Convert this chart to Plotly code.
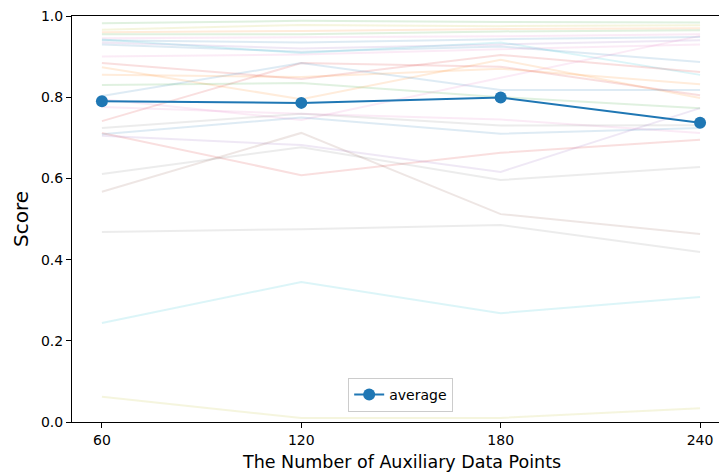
import plotly.graph_objects as go

# Number of auxiliary data points on the x axis
aux_points = [60, 120, 180, 240]

# Per-task scores (one faint line each) with their tab10 colour names
task_scores = {
    "t01": ([0.982, 0.988, 0.985, 0.984], "green"),
    "t02": ([0.966, 0.978, 0.975, 0.977], "olive"),
    "t03": ([0.960, 0.963, 0.968, 0.970], "orange"),
    "t04": ([0.955, 0.955, 0.962, 0.965], "green"),
    "t05": ([0.945, 0.948, 0.950, 0.955], "pink"),
    "t06": ([0.940, 0.935, 0.943, 0.948], "blue"),
    "t07": ([0.935, 0.920, 0.930, 0.940], "purple"),
    "t08": ([0.930, 0.912, 0.925, 0.887], "blue"),
    "t09": ([0.942, 0.909, 0.935, 0.855], "cyan"),
    "t10": ([0.900, 0.905, 0.918, 0.930], "pink"),
    "t11": ([0.884, 0.845, 0.904, 0.862], "red"),
    "t12": ([0.874, 0.795, 0.892, 0.798], "orange"),
    "t13": ([0.741, 0.884, 0.875, 0.805], "red"),
    "t14": ([0.803, 0.884, 0.818, 0.818], "blue"),
    "t15": ([0.830, 0.835, 0.800, 0.773], "green"),
    "t16": ([0.795, 0.744, 0.848, 0.951], "pink"),
    "t17": ([0.855, 0.850, 0.870, 0.832], "orange"),
    "t18": ([0.776, 0.759, 0.745, 0.712], "pink"),
    "t19": ([0.724, 0.759, 0.730, 0.731], "gray"),
    "t20": ([0.709, 0.750, 0.710, 0.724], "blue"),
    "t21": ([0.712, 0.608, 0.663, 0.695], "red"),
    "t22": ([0.705, 0.682, 0.616, 0.773], "purple"),
    "t23": ([0.611, 0.677, 0.596, 0.628], "gray"),
    "t24": ([0.567, 0.712, 0.512, 0.463], "brown"),
    "t25": ([0.468, 0.475, 0.485, 0.419], "gray"),
    "t26": ([0.244, 0.345, 0.268, 0.308], "cyan"),
    "t27": ([0.062, 0.010, 0.010, 0.034], "olive"),
}

# Mean score across tasks
average_scores = [0.790, 0.786, 0.799, 0.737]

y_ticks = [0.0, 0.2, 0.4, 0.6, 0.8, 1.0]

tab10 = {
    "blue": (31, 119, 180), "orange": (255, 127, 14), "green": (44, 160, 44),
    "red": (214, 39, 40), "purple": (148, 103, 189), "brown": (140, 86, 75),
    "pink": (227, 119, 194), "gray": (127, 127, 127), "olive": (188, 189, 34),
    "cyan": (23, 190, 207),
}

fig = go.Figure()

for name, (scores, cname) in task_scores.items():
    r, g, b = tab10[cname]
    fig.add_trace(go.Scatter(
        x=aux_points, y=scores, mode="lines", name=name, showlegend=False,
        line=dict(color=f"rgba({r},{g},{b},0.15)", width=2),
        hoverinfo="skip",
    ))

fig.add_trace(go.Scatter(
    x=aux_points, y=average_scores, mode="lines+markers", name="average",
    line=dict(color="#1f77b4", width=2),
    marker=dict(color="#1f77b4", size=12),
))

fig.update_layout(
    width=719, height=476,
    margin=dict(l=72, r=0, t=16, b=54),
    paper_bgcolor="white", plot_bgcolor="white",
    font=dict(family="DejaVu Sans", size=14, color="black"),
    legend=dict(
        x=0.508, xanchor="center", y=0.025, yanchor="bottom",
        bordercolor="#cccccc", borderwidth=1, bgcolor="rgba(255,255,255,0.8)",
        font=dict(size=14), tracegroupgap=0,
    ),
    annotations=[dict(
        text="The Number of Auxiliary Data Points", xref="paper", yref="paper",
        x=(401 - 72) / 647, y=-(462 - 422) / 406, xanchor="center", yanchor="middle",
        showarrow=False, font=dict(size=17.5),
    )],
)

fig.update_xaxes(
    range=[51, 245.7], tickvals=aux_points, ticktext=[str(v) for v in aux_points],
    showgrid=False, zeroline=False, showline=True, linecolor="black", linewidth=1,
    mirror=True, ticks="outside", ticklen=5, tickcolor="black",
)
fig.update_yaxes(
    range=[0, 1.0], tickvals=y_ticks, ticktext=[f"{v:.1f}" for v in y_ticks],
    showgrid=False, zeroline=False, showline=True, linecolor="black", linewidth=1,
    ticks="outside", ticklen=5, tickcolor="black",
    title=dict(text="Score", font=dict(size=20), standoff=6),
)

fig.write_html("out.html")
